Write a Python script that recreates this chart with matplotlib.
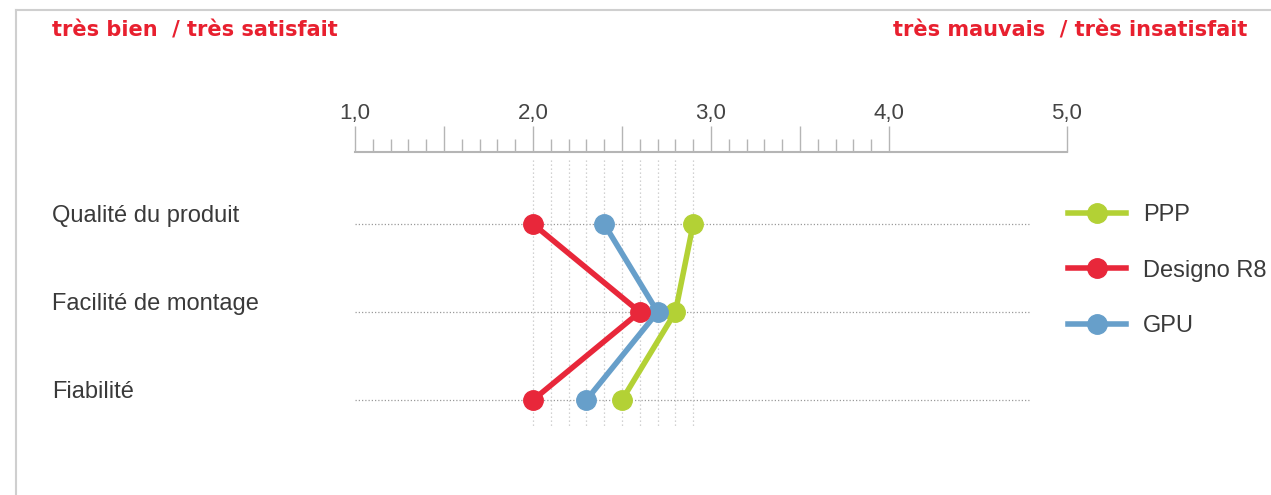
import matplotlib
matplotlib.use("Agg")
import matplotlib.pyplot as plt
from matplotlib.lines import Line2D
import numpy as np

# ---- data ----
categories = ["Qualité du produit", "Facilité de montage", "Fiabilité"]
series_names = ["PPP", "Designo R8", "GPU"]
ppp = [2.9, 2.8, 2.5]
designo = [2.0, 2.6, 2.0]
gpu = [2.4, 2.7, 2.3]
tick_values = [1.0, 2.0, 3.0, 4.0, 5.0]
tick_labels = ["1,0", "2,0", "3,0", "4,0", "5,0"]
guide_values = [2.0, 2.1, 2.2, 2.3, 2.4, 2.5, 2.6, 2.7, 2.8, 2.9]
left_title = "très bien  / très satisfait"
right_title = "très mauvais  / très insatisfait"

colors = {"PPP": "#b3d135", "Designo R8": "#e8273a", "GPU": "#679fca"}
values = {"PPP": ppp, "Designo R8": designo, "GPU": gpu}
RED = "#e8202f"
FONT = ["Liberation Sans", "DejaVu Sans"]
plt.rcParams["font.family"] = FONT
FS = 17
TXT = "#3a3a3a"

W, H = 1271, 495
fig = plt.figure(figsize=(W / 100, H / 100), dpi=100)

# frame lines (top & left)
fig.add_artist(Line2D([16 / W, 1], [1 - 10 / H, 1 - 10 / H], color="#cfcfcf", lw=1.5))
fig.add_artist(Line2D([16 / W, 16 / W], [0, 1 - 10 / H], color="#cfcfcf", lw=1.5))

# main axes: x from 1..5 spans pixel 355..1067; top at pixel 152, bottom at 488
x0, x1 = 355, 1067
ytop, ybot = 152, 488
ax = fig.add_axes([x0 / W, 1 - ybot / H, (x1 - x0) / W, (ybot - ytop) / H])
row_px = 88.0
ax.set_xlim(1, 5)
ax.set_ylim(2 + (ybot - 400) / row_px, -(224 - ytop) / row_px)
ax.patch.set_alpha(0)
for s in ["left", "right", "bottom"]:
    ax.spines[s].set_visible(False)
ax.spines["top"].set_color("#b5b5b5")
ax.spines["top"].set_linewidth(1.5)
ax.set_yticks([])

ax.xaxis.set_ticks_position("top")
major = [1.0, 1.5, 2.0, 2.5, 3.0, 3.5, 4.0, 5.0]
ax.set_xticks(major)
ax.set_xticklabels([tick_labels[tick_values.index(v)] if v in tick_values else "" for v in major])
minor = [round(1 + 0.1 * i, 1) for i in range(31) if round(1 + 0.1 * i, 1) not in major]
ax.set_xticks(minor, minor=True)
ax.tick_params(axis="x", which="major", direction="out", length=19, width=1.0,
               color="#b5b5b5", labelsize=16, labelcolor="#444444", pad=1)
ax.tick_params(axis="x", which="minor", direction="out", length=9.5, width=1.0,
               color="#b5b5b5")

rows = np.arange(len(categories))
# horizontal dotted guides
for r in rows:
    ax.plot([1.0, 4.79], [r, r], color="#9a9a9a", lw=0.9, ls=(0, (1, 1.6)), zorder=1)
# vertical dotted guides
for g in guide_values:
    ax.plot([g, g], [-(224 - 160) / row_px, (428 - 224) / row_px], color="#c4c4c4",
            lw=0.9, ls=(0, (1, 2.2)), zorder=1)

order = ["PPP", "GPU", "Designo R8"]
for name in order:
    ax.plot(values[name], rows, color=colors[name], lw=4, marker="o", ms=14,
            solid_capstyle="butt", zorder=3, clip_on=False)

# category labels
for r, c in zip(rows, categories):
    fig.text(52 / W, 1 - (224 + r * row_px - 8) / H, c,
             fontsize=FS, color=TXT, va="center", ha="left")

# titles
TFONT = ["DejaVu Sans"]
fig.text(52 / W, 1 - 30 / H, left_title, color=RED, fontsize=15, fontweight="bold",
         ha="left", va="center", family=TFONT)
fig.text(1247 / W, 1 - 30 / H, right_title, color=RED, fontsize=15, fontweight="bold",
         ha="right", va="center", family=TFONT)

# legend
leg_handles = [Line2D([0], [0], color=colors[n], lw=4, marker="o", ms=14) for n in series_names]
leg = fig.legend(leg_handles, series_names, loc="upper left",
                 bbox_to_anchor=(1068 / W, 1 - 204 / H), frameon=False,
                 prop={"size": FS}, handlelength=2.46, handletextpad=0.72,
                 labelspacing=1.42, labelcolor=TXT, borderaxespad=0, borderpad=0)

fig.savefig("out.png", dpi=100)
